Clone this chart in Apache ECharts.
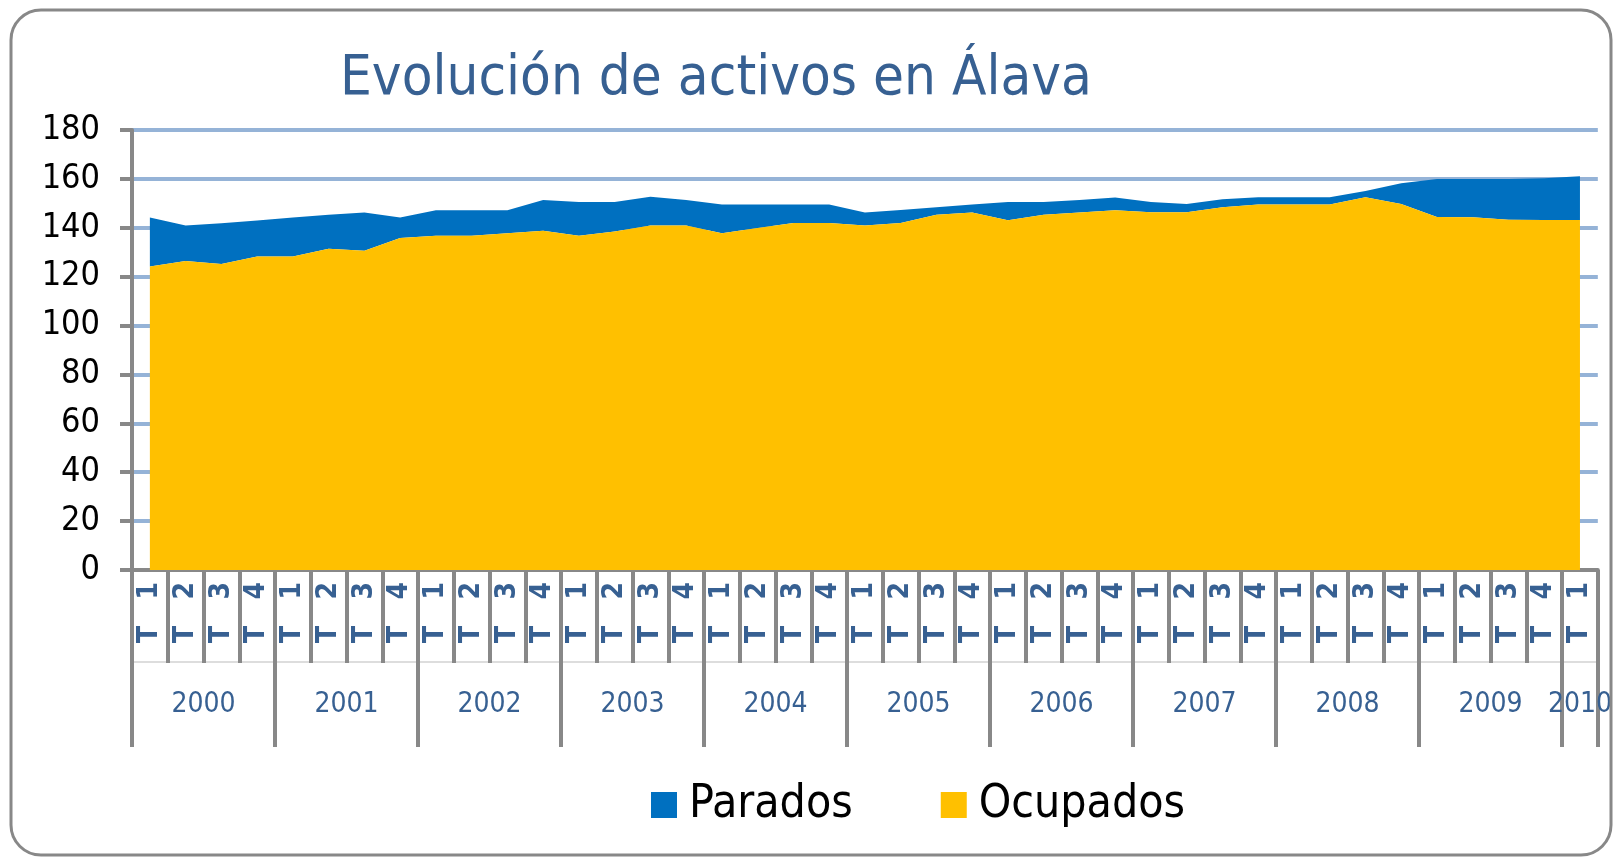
<!DOCTYPE html>
<html>
<head>
<meta charset="utf-8">
<script src="https://cdn.jsdelivr.net/npm/echarts@6/dist/echarts.min.js"></script>
<style>
html,body{margin:0;padding:0;background:#fff;}
#chart{width:1615px;height:858px;}
</style>
</head>
<body>
<div id="chart"></div>
<script>
// ---- data ----
const quarterLabels = [
  'T   1','T   2','T   3','T   4','T   1','T   2','T   3','T   4','T   1','T   2','T   3','T   4',
  'T   1','T   2','T   3','T   4','T   1','T   2','T   3','T   4','T   1','T   2','T   3','T   4',
  'T   1','T   2','T   3','T   4','T   1','T   2','T   3','T   4','T   1','T   2','T   3','T   4',
  'T   1','T   2','T   3','T   4','T   1'
];
const years = ['2000','2001','2002','2003','2004','2005','2006','2007','2008','2009','2010'];
const yearCenters = [2,6,10,14,18,22,26,30,34,38,40.5];
const yearBounds = [0,4,8,12,16,20,24,28,32,36,40,41];
const ocupados = [124.2,126.4,125.2,128.3,128.3,131.4,130.6,135.8,136.7,136.7,137.8,138.8,136.7,138.5,140.9,140.9,
  137.8,139.9,142.0,142.0,140.9,142.0,145.3,146.3,143.1,145.3,146.3,147.2,146.4,146.4,148.4,149.5,149.5,149.5,
  152.5,149.7,144.4,144.3,143.3,143.2,143.2];
const parados = [20.0,14.5,16.7,14.7,15.9,13.9,15.7,8.4,10.5,10.5,9.4,12.6,13.8,12.0,11.8,10.5,11.7,9.6,7.5,7.5,
  5.4,5.3,3.1,3.2,7.4,5.2,5.1,5.2,4.1,3.3,3.3,3.0,3.0,3.0,2.5,8.5,15.6,15.7,16.7,17.1,17.9];
const yTicks = {min:0, max:180, interval:20};

const NARROW = "'DejaVu Sans Condensed','Liberation Sans',sans-serif";
const GRAY = '#888888';
const DARKBLUE = '#376092';

const chart = echarts.init(document.getElementById('chart'), null, {renderer:'canvas'});
chart.setOption({
  animation:false,
  backgroundColor:'#ffffff',
  title:{
    text:'Evolución de activos en Álava',
    left:335, top:46,
    textStyle:{fontFamily:NARROW, fontSize:56, fontWeight:'normal', color:DARKBLUE}
  },
  legend:{
    left:646, top:777,
    itemWidth:26, itemHeight:26, itemGap:88,
    data:[{name:'Parados', icon:'rect'},{name:'Ocupados', icon:'rect'}],
    textStyle:{fontFamily:NARROW, fontSize:46, color:'#000', padding:[0,0,0,7]}
  },
  grid:{left:132, right:12, top:130, bottom:288, containLabel:false},
  xAxis:[
    {
      type:'category', data:quarterLabels, boundaryGap:true, position:'bottom',
      axisLine:{show:true, lineStyle:{color:GRAY, width:4}},
      axisTick:{show:true, interval:0, length:93, lineStyle:{color:GRAY, width:4}},
      axisLabel:{interval:0, rotate:90, margin:12, color:DARKBLUE, fontFamily:NARROW,
        fontSize:28, fontWeight:'bold'},
      splitLine:{show:false}
    },
    {
      type:'value', min:0, max:41, position:'bottom', gridIndex:0,
      axisLine:{show:false},
      axisTick:{show:true, customValues:yearBounds, length:177, lineStyle:{color:GRAY, width:4}},
      axisLabel:{show:true, customValues:yearCenters, margin:121, color:DARKBLUE,
        fontFamily:NARROW, fontSize:28,
        formatter:function(v){ const k = yearCenters.indexOf(v); return k>=0 ? years[k] : ''; }},
      splitLine:{show:false}
    },
    {
      type:'value', min:0, max:41, position:'bottom', offset:92, gridIndex:0,
      axisLine:{show:true, lineStyle:{color:'#dddddd', width:2}},
      axisTick:{show:false}, axisLabel:{show:false}, splitLine:{show:false}
    }
  ],
  yAxis:{
    type:'value', min:yTicks.min, max:yTicks.max, interval:yTicks.interval,
    axisLine:{show:true, lineStyle:{color:GRAY, width:4}},
    axisTick:{show:true, length:12, lineStyle:{color:GRAY, width:4}},
    axisLabel:{margin:32, color:'#000', fontFamily:NARROW, fontSize:34},
    splitLine:{show:true, lineStyle:{color:'#95B3D7', width:4}}
  },
  series:[
    {
      name:'Ocupados', type:'line', stack:'total', xAxisIndex:0, data:ocupados,
      symbol:'none', lineStyle:{width:0}, itemStyle:{color:'#FFC000'},
      areaStyle:{color:'#FFC000', opacity:1}, z:3
    },
    {
      name:'Parados', type:'line', stack:'total', xAxisIndex:0, data:parados,
      symbol:'none', lineStyle:{width:0}, itemStyle:{color:'#0070C0'},
      areaStyle:{color:'#0070C0', opacity:1}, z:2
    }
  ],
  graphic:[{
    type:'rect', silent:true, z:100,
    shape:{x:11, y:10, width:1600, height:845, r:30},
    style:{fill:'none', stroke:GRAY, lineWidth:3}
  }]
});
</script>
</body>
</html>
